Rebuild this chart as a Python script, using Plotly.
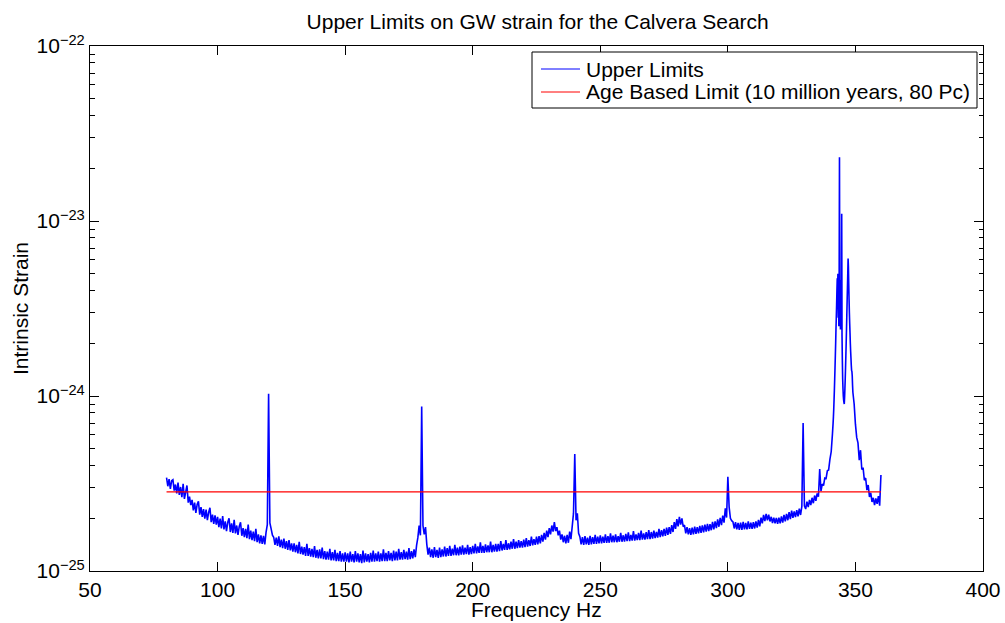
import numpy as np
import plotly.graph_objects as go

# Upper limits on intrinsic strain, in units of 1e-25.
# Main band: 80.0 Hz upward in 0.5 Hz steps (one row per 10 Hz).
ul_main = [
    3.42, 3.05, 3.35, 2.95, 3.28, 3.32, 2.88, 3.12, 2.78, 3.20, 2.72, 3.02, 2.64, 3.15, 2.58, 2.82, 3.08, 2.46, 2.66, 2.38,
    2.55, 2.22, 2.46, 2.15, 2.40, 2.50, 2.10, 2.32, 2.04, 2.26, 1.99, 2.24, 1.95, 2.16, 2.30, 1.90, 2.10, 1.86, 2.08, 1.84,
    2.04, 1.78, 1.99, 1.75, 2.06, 1.73, 1.92, 1.69, 1.90, 2.00, 1.67, 1.87, 1.65, 1.96, 1.64, 1.82, 1.61, 1.80, 1.90, 1.59,
    1.76, 1.56, 1.74, 1.54, 1.84, 1.52, 1.70, 1.50, 1.68, 1.48, 1.74, 1.46, 1.62, 1.44, 1.60, 1.43, 1.59, 1.42, 1.66, 1.84,
    10.3, 1.88, 1.74, 1.60, 1.56, 1.41, 1.55, 1.39, 1.58, 1.37, 1.51, 1.35, 1.53, 1.34, 1.48, 1.32, 1.50, 1.31, 1.44, 1.29,
    1.44, 1.28, 1.41, 1.26, 1.47, 1.25, 1.38, 1.24, 1.37, 1.22, 1.43, 1.22, 1.35, 1.21, 1.34, 1.20, 1.39, 1.19, 1.32, 1.18,
    1.33, 1.18, 1.36, 1.17, 1.30, 1.16, 1.29, 1.16, 1.34, 1.15, 1.28, 1.15, 1.32, 1.14, 1.27, 1.14, 1.30, 1.13, 1.26, 1.13,
    1.28, 1.13, 1.26, 1.12, 1.29, 1.13, 1.25, 1.12, 1.30, 1.13, 1.26, 1.12, 1.25, 1.11, 1.31, 1.12, 1.26, 1.13, 1.25, 1.12,
    1.27, 1.13, 1.31, 1.13, 1.26, 1.14, 1.29, 1.13, 1.26, 1.14, 1.33, 1.14, 1.27, 1.14, 1.30, 1.15, 1.27, 1.14, 1.31, 1.15,
    1.29, 1.15, 1.34, 1.16, 1.28, 1.16, 1.32, 1.17, 1.29, 1.16, 1.35, 1.17, 1.30, 1.18, 1.33, 1.20, 1.40, 1.55, 1.82, 1.60,
    8.70, 1.82, 1.62, 1.78, 1.42, 1.24, 1.36, 1.20, 1.33, 1.19, 1.37, 1.20, 1.32, 1.19, 1.36, 1.20, 1.33, 1.21, 1.38, 1.21,
    1.35, 1.22, 1.39, 1.22, 1.34, 1.23, 1.41, 1.23, 1.36, 1.23, 1.38, 1.24, 1.40, 1.24, 1.36, 1.25, 1.41, 1.24, 1.37, 1.25,
    1.39, 1.26, 1.43, 1.26, 1.38, 1.27, 1.46, 1.27, 1.39, 1.27, 1.42, 1.28, 1.40, 1.28, 1.47, 1.28, 1.41, 1.29, 1.43, 1.29,
    1.43, 1.30, 1.48, 1.31, 1.43, 1.32, 1.50, 1.32, 1.44, 1.33, 1.47, 1.34, 1.52, 1.34, 1.47, 1.35, 1.50, 1.36, 1.48, 1.36,
    1.51, 1.37, 1.54, 1.38, 1.50, 1.39, 1.57, 1.40, 1.52, 1.41, 1.57, 1.42, 1.58, 1.44, 1.61, 1.47, 1.65, 1.51, 1.70, 1.56,
    1.76, 1.62, 1.82, 1.68, 1.90, 1.69, 1.78, 1.60, 1.70, 1.51, 1.62, 1.46, 1.59, 1.44, 1.61, 1.45, 1.68, 1.52, 1.80, 2.14,
    4.66, 1.95, 2.14, 1.64, 1.57, 1.42, 1.56, 1.41, 1.58, 1.42, 1.55, 1.41, 1.59, 1.42, 1.56, 1.43, 1.61, 1.43, 1.57, 1.44,
    1.60, 1.44, 1.57, 1.45, 1.62, 1.45, 1.58, 1.45, 1.64, 1.46, 1.59, 1.46, 1.62, 1.46, 1.58, 1.47, 1.65, 1.47, 1.60, 1.47,
    1.63, 1.48, 1.66, 1.48, 1.61, 1.49, 1.69, 1.49, 1.62, 1.50, 1.65, 1.50, 1.70, 1.51, 1.64, 1.51, 1.67, 1.52, 1.71, 1.52,
    1.67, 1.53, 1.70, 1.54, 1.67, 1.55, 1.74, 1.56, 1.71, 1.58, 1.74, 1.59, 1.77, 1.61, 1.78, 1.63, 1.83, 1.67, 1.90, 1.74,
    1.98, 1.80, 2.04, 1.84, 2.00, 1.79, 1.83, 1.64, 1.78, 1.62, 1.76, 1.61, 1.77, 1.62, 1.79, 1.63, 1.78, 1.64, 1.81, 1.65,
    1.82, 1.66, 1.84, 1.68, 1.86, 1.69, 1.85, 1.71, 1.91, 1.73, 1.92, 1.76, 1.97, 1.79, 2.01, 1.83, 2.07, 1.89, 2.28, 2.02,
    3.46, 2.32, 2.00, 1.94, 1.91, 1.75, 1.90, 1.73, 1.88, 1.72, 1.89, 1.72, 1.91, 1.73, 1.88, 1.73, 1.92, 1.74, 1.89, 1.74,
    1.90, 1.75, 1.92, 1.77, 1.96, 1.80, 2.02, 1.87, 2.09, 1.93, 2.12, 1.95, 2.10, 1.92, 2.04, 1.88, 2.02, 1.87, 2.01, 1.86,
    2.02, 1.87, 2.05, 1.89, 2.09, 1.92, 2.12, 1.95, 2.17, 1.98, 2.21, 2.01, 2.19, 2.03, 2.23, 2.05, 2.27, 2.09, 2.34, 7.00,
    2.36, 2.26, 2.49, 2.32, 2.55, 2.38, 2.62, 2.44, 2.70, 2.52, 2.78, 2.66, 3.83, 2.86, 3.14, 3.08, 3.40, 3.38, 3.74, 3.78,
    4.34, 4.80, 6.10,
]
ul_main_start, ul_main_step = 80.0, 0.5

# Resonance cluster: 341.25 Hz upward in 0.125 Hz steps.
ul_peak = [
    7.0, 7.6, 8.4, 9.5, 10.8, 12.5,
    14.5, 17.0, 20.0, 24.0, 28.0, 33.0, 40.0, 47.0,
    36.0, 50.0, 28.0, 44.0, 25.0, 48.0, 231.0, 30.0,
    46.0, 24.0, 42.0, 27.0, 38.0, 110.0, 22.0, 16.0,
    12.5, 11.0, 10.0, 9.5, 9.2, 9.0, 9.8, 11.0,
    12.5, 14.5, 17.0, 20.0, 24.0, 29.0, 35.0, 42.0,
    50.0, 61.0, 55.0, 44.0, 36.0, 30.0, 26.0, 23.0,
    20.0, 18.0, 16.5, 15.0, 14.0, 13.8, 13.0, 11.5,
    10.5,
]
ul_peak_start, ul_peak_step = 341.25, 0.125

# High-frequency tail: 349.5 Hz upward in 0.5 Hz steps.
ul_tail = [
    9.0, 6.9, 5.8, 5.4, 4.3, 4.9, 3.8, 3.9, 3.3, 3.4, 2.9,
    3.1, 2.65, 2.8, 2.48, 2.62, 2.38, 2.6, 2.42, 2.68, 2.36, 3.54,
]
ul_tail_start, ul_tail_step = 349.5, 0.5

# Age-based limit (10 million years, 80 pc)
age_limit = 2.83e-25
age_band = [80.0, 360.0]

series_names = ["Upper Limits", "Age Based Limit (10 million years, 80 Pc)"]
series_colors = ["#0000ff", "#ff0000"]

x_ticks = [50, 100, 150, 200, 250, 300, 350, 400]
y_decades = [-25, -24, -23, -22]

UNIT = 1e-25

freq = np.concatenate([
    ul_main_start + ul_main_step * np.arange(len(ul_main)),
    ul_peak_start + ul_peak_step * np.arange(len(ul_peak)),
    ul_tail_start + ul_tail_step * np.arange(len(ul_tail)),
])
strain = np.concatenate([ul_main, ul_peak, ul_tail]) * UNIT

FONT = "Liberation Sans, Arial, Helvetica, sans-serif"
W, H = 1005, 623
ML, MR, MT, MB = 90, 22, 46, 52
PW, PH = W - ML - MR, H - MT - MB


def px_x(px):
    """Pixel column -> paper x."""
    return (px - ML) / PW


def px_y(py):
    """Pixel row -> paper y."""
    return (H - MB - py) / PH


fig = go.Figure()
fig.add_trace(go.Scatter(
    x=freq, y=strain, mode="lines", name=series_names[0],
    line=dict(color=series_colors[0], width=1.6, simplify=False),
    showlegend=False,
))
fig.add_trace(go.Scatter(
    x=age_band, y=[age_limit, age_limit], mode="lines", name=series_names[1],
    line=dict(color=series_colors[1], width=1.3),
    showlegend=False,
))

# Boxed legend in the upper-right corner of the axes
shapes = [dict(type="rect", xref="paper", yref="paper",
               x0=px_x(532), x1=px_x(977), y0=px_y(108), y1=px_y(52),
               line=dict(color="black", width=1), fillcolor="white", layer="above")]
annotations = []
for i, (name, color) in enumerate(zip(series_names, series_colors)):
    row = 69 + 23 * i
    shapes.append(dict(type="line", xref="paper", yref="paper",
                       x0=px_x(541), x1=px_x(580), y0=px_y(row), y1=px_y(row),
                       line=dict(color=color, width=1), layer="above"))
    annotations.append(dict(text=name, xref="paper", yref="paper",
                            x=px_x(584), y=px_y(row), xanchor="left", yanchor="middle",
                            showarrow=False, font=dict(family=FONT, size=21, color="black")))

# x-axis label, set just under the tick labels
annotations.append(dict(text="Frequency Hz", xref="paper", yref="paper",
                        x=0.5, y=px_y(609), xanchor="center", yanchor="middle",
                        showarrow=False, font=dict(family=FONT, size=21, color="black")))

major_y = [10.0 ** d for d in y_decades]
major_y_text = ["10<sup>\u2212%d</sup>" % -d for d in y_decades]
minor_y = [m * 10.0 ** d for d in y_decades[:-1] for m in range(2, 10)]

fig.update_layout(
    width=W, height=H,
    margin=dict(l=ML, r=MR, t=MT, b=MB),
    paper_bgcolor="white", plot_bgcolor="white",
    font=dict(family=FONT, size=21, color="black"),
    title=dict(
        text="Upper Limits on GW strain for the Calvera Search",
        x=0.535, xanchor="center", y=1 - 22 / H, yanchor="middle",
        font=dict(family=FONT, size=21, color="black"),
    ),
    showlegend=False,
    shapes=shapes,
    annotations=annotations,
)

fig.update_xaxes(
    range=[50, 400], tickmode="array", tickvals=x_ticks,
    ticks="inside", ticklen=9, tickwidth=1, tickcolor="black",
    showline=True, linecolor="black", linewidth=1, mirror="ticks",
    showgrid=False, zeroline=False, automargin=False,
    tickfont=dict(family=FONT, size=21),
)
fig.update_yaxes(
    type="log", range=[-25, -22],
    tickmode="array", tickvals=major_y, ticktext=major_y_text,
    ticks="inside", ticklen=9, tickwidth=1, tickcolor="black",
    minor=dict(tickmode="array", tickvals=minor_y, ticks="inside", ticklen=4.5,
               tickwidth=1, tickcolor="black", showgrid=False),
    showline=True, linecolor="black", linewidth=1, mirror="ticks",
    showgrid=False, zeroline=False, automargin=False,
    tickfont=dict(family=FONT, size=21),
    title=dict(text="Intrinsic Strain", font=dict(family=FONT, size=21), standoff=2),
)

fig.write_html("out.html")
